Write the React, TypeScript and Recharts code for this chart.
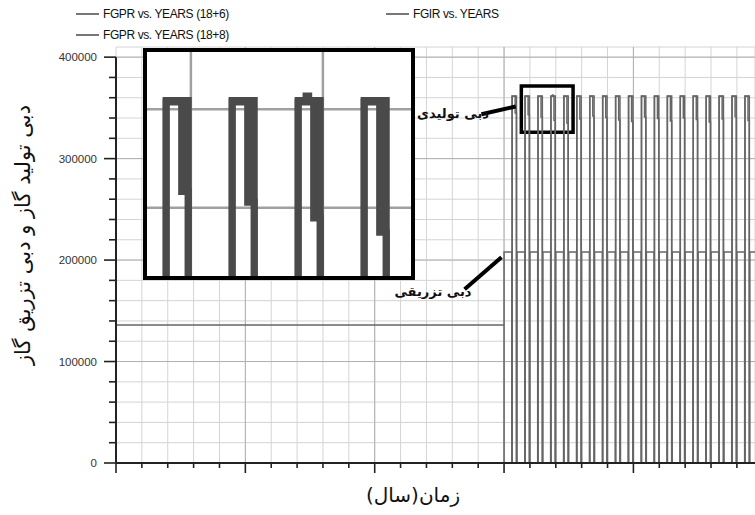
import React from "react";
import {
  LineChart,
  Line,
  XAxis,
  YAxis,
  CartesianGrid,
  ReferenceLine,
  ReferenceArea,
} from "recharts";

// --- simulation output (years / Mscf per day) ---

// constant injection before cyclic operation starts
const BASE_INJ_RATE = 136000;
const BASE_INJ_END = 60;

// start year of each injection/production cycle
const CYCLE_START = [60, 62, 64, 66, 68, 70, 72, 74, 76, 78, 80, 82, 84, 86, 88, 90, 92, 94, 96, 98];

// offsets inside a cycle (years after the cycle start)
const INJ_END = 1.2;
const PROD_START = 1.25;
const PROD_DROP_6 = 1.72;
const PROD_END = 1.92;
const SPIKE_FROM = 1.49;
const SPIKE_TO = 1.57;

// FGIR during each cycle
const INJ_RATE = [
  208000, 208000, 208000, 208000, 208000, 208000, 208000, 208000, 208000, 208000,
  208000, 208000, 208000, 208000, 208000, 208000, 208000, 208000, 208000, 208000,
];

// FGPR (18+6): plateau, then a short partial step before shut-in
const PEAK_6 = [
  361500, 361500, 361500, 361500, 361500, 361500, 361500, 361500, 361500, 361500,
  361500, 361500, 361500, 361500, 361500, 361500, 361500, 361500, 361500, 361500,
];
const STEP_6 = [
  345000, 343300, 341100, 337900, 335000, 339000, 342000, 340500, 338000, 336500,
  341000, 339500, 337000, 340000, 338500, 336000, 339000, 341500, 337500, 338000,
];

// FGPR (18+8)
const PEAK_8 = [
  361800, 361800, 361800, 361800, 361800, 361800, 361800, 361800, 361800, 361800,
  361800, 361800, 361800, 361800, 361800, 361800, 361800, 361800, 361800, 361800,
];
const SPIKE_8 = [0, 0, 0, 362700, 0, 0, 0, 0, 0, 0, 0, 0, 0, 0, 0, 0, 0, 0, 0, 0];

const X_TICKS = [0, 4, 8, 12, 16, 20, 24, 28, 32, 36, 40, 44, 48, 52, 56, 60, 64, 68, 72, 76, 80, 84, 88, 92, 96];
const X_MAJOR = [20, 40, 60, 80];
const Y_TICKS = [
  0, 20000, 40000, 60000, 80000, 100000, 120000, 140000, 160000, 180000, 200000,
  220000, 240000, 260000, 280000, 300000, 320000, 340000, 360000, 380000, 400000,
];
const Y_MAJOR = [100000, 200000, 300000, 400000];

// zoomed window shown in the inset
const INSET_X = [62.67, 70.67];
const INSET_Y = [326100, 371650];

type Pt = { x: number; y: number };

const injection: Pt[] = [
  { x: 0, y: BASE_INJ_RATE },
  { x: BASE_INJ_END, y: BASE_INJ_RATE },
  { x: BASE_INJ_END, y: 0 },
];
CYCLE_START.forEach((t, i) => {
  injection.push(
    { x: t, y: 0 },
    { x: t, y: INJ_RATE[i] },
    { x: t + INJ_END, y: INJ_RATE[i] },
    { x: t + INJ_END, y: 0 }
  );
});

const prod6: Pt[] = [{ x: 0, y: 0 }];
CYCLE_START.forEach((t, i) => {
  prod6.push(
    { x: t + PROD_START, y: 0 },
    { x: t + PROD_START, y: PEAK_6[i] },
    { x: t + PROD_DROP_6, y: PEAK_6[i] },
    { x: t + PROD_DROP_6, y: STEP_6[i] },
    { x: t + PROD_END, y: STEP_6[i] },
    { x: t + PROD_END, y: 0 }
  );
});

const prod8: Pt[] = [{ x: 0, y: 0 }];
CYCLE_START.forEach((t, i) => {
  prod8.push({ x: t + PROD_START, y: 0 }, { x: t + PROD_START, y: PEAK_8[i] });
  if (SPIKE_8[i] > 0) {
    prod8.push(
      { x: t + SPIKE_FROM, y: PEAK_8[i] },
      { x: t + SPIKE_FROM, y: SPIKE_8[i] },
      { x: t + SPIKE_TO, y: SPIKE_8[i] },
      { x: t + SPIKE_TO, y: PEAK_8[i] }
    );
  }
  prod8.push({ x: t + PROD_END, y: PEAK_8[i] }, { x: t + PROD_END, y: 0 });
});

const W = 755;
const H = 515;
const PLOT_LEFT = 116;
const PLOT_TOP = 47;
const X_AXIS_H = 52;
const PLOT_BOTTOM = H - X_AXIS_H;

const LINE_GRAY = "#666";
const AXIS = "#222";
const LATIN = "'Liberation Sans', Arial, sans-serif";
const PERSIAN = "'DejaVu Sans', sans-serif";

const YTick = (props: any) => {
  const { y, payload } = props;
  const major = payload.value % 100000 === 0;
  return (
    <g>
      <line x1={PLOT_LEFT - (major ? 12 : 7)} x2={PLOT_LEFT} y1={y} y2={y} stroke={AXIS} strokeWidth={1.6} />
      {major && (
        <text x={PLOT_LEFT - 19} y={y} dy={4} textAnchor="end" fontSize={11.5} fill="#333" fontFamily={LATIN}>
          {payload.value}
        </text>
      )}
    </g>
  );
};

const XTick = (props: any) => {
  const { x, payload } = props;
  const major = payload.value % 20 === 0;
  return <line x1={x} x2={x} y1={PLOT_BOTTOM} y2={PLOT_BOTTOM + (major ? 10 : 5)} stroke={AXIS} strokeWidth={1.6} />;
};

const LegendItem = ({ x, y, label }: { x: number; y: number; label: string }) => (
  <g>
    <line x1={x} x2={x + 23} y1={y} y2={y} stroke="#777" strokeWidth={2} />
    <text x={x + 27} y={y} dy={4} fontSize={12} letterSpacing={-0.4} fill="#111" fontFamily={LATIN}>
      {label}
    </text>
  </g>
);

export default function App() {
  return (
    <div style={{ position: "fixed", left: 0, top: 0, width: W, height: H, background: "#fff", overflow: "hidden" }}>
      <LineChart width={W} height={H} margin={{ top: PLOT_TOP, right: 0, bottom: 0, left: 0 }}>
        <CartesianGrid stroke="#d4d4d4" strokeWidth={1} />
        <CartesianGrid stroke="#b0b0b0" strokeWidth={1} horizontalValues={Y_MAJOR} verticalValues={X_MAJOR} fill="none" />
        <XAxis
          type="number"
          dataKey="x"
          domain={[0, 98.8]}
          ticks={X_TICKS}
          interval={0}
          height={X_AXIS_H}
          allowDataOverflow
          tickLine={false}
          axisLine={{ stroke: AXIS, strokeWidth: 2 }}
          tick={<XTick />}
        />
        <YAxis
          type="number"
          dataKey="y"
          domain={[0, 410000]}
          ticks={Y_TICKS}
          interval={0}
          width={PLOT_LEFT}
          allowDataOverflow
          tickLine={false}
          axisLine={false}
          tick={<YTick />}
        />
        <Line data={injection} dataKey="y" name="FGIR vs. YEARS" type="linear" stroke={LINE_GRAY} strokeWidth={1.5} dot={false} activeDot={false} isAnimationActive={false} />
        <Line data={prod6} dataKey="y" name="FGPR vs. YEARS (18+6)" type="linear" stroke={LINE_GRAY} strokeWidth={1.5} dot={false} activeDot={false} isAnimationActive={false} />
        <Line data={prod8} dataKey="y" name="FGPR vs. YEARS (18+8)" type="linear" stroke={LINE_GRAY} strokeWidth={1.5} dot={false} activeDot={false} isAnimationActive={false} />
        <ReferenceLine segment={[{ x: 0, y: 0 }, { x: 0, y: 400000 }]} stroke={AXIS} strokeWidth={2} />
        <ReferenceArea x1={INSET_X[0]} x2={INSET_X[1]} y1={INSET_Y[0]} y2={INSET_Y[1]} fill="none" fillOpacity={0} stroke="#000" strokeWidth={3.5} />
        {/* pointers for the two annotations */}
        <ReferenceLine segment={[{ x: 56.5, y: 343700 }, { x: 61.8, y: 351400 }]} stroke="#000" strokeWidth={4} />
        <ReferenceLine segment={[{ x: 53.9, y: 171200 }, { x: 59.6, y: 202700 }]} stroke="#000" strokeWidth={4} />
      </LineChart>

      {/* magnified view of the boxed window */}
      <div
        style={{
          position: "absolute",
          left: 143,
          top: 48,
          width: 272,
          height: 232,
          border: "4px solid #000",
          boxSizing: "border-box",
          background: "#fff",
        }}
      >
        <LineChart width={264} height={224} margin={{ top: 0, right: 0, bottom: 0, left: 0 }}>
          <CartesianGrid stroke="#a0a0a0" strokeWidth={2.5} horizontalValues={[340000, 360000]} verticalValues={[64, 68]} />
          <XAxis type="number" dataKey="x" domain={INSET_X} allowDataOverflow hide />
          <YAxis type="number" dataKey="y" domain={INSET_Y} allowDataOverflow hide />
          <Line data={prod6} dataKey="y" type="linear" stroke="#4a4a4a" strokeWidth={7} dot={false} activeDot={false} isAnimationActive={false} />
          <Line data={prod8} dataKey="y" type="linear" stroke="#4a4a4a" strokeWidth={7} dot={false} activeDot={false} isAnimationActive={false} />
        </LineChart>
      </div>

      <svg width={W} height={H} style={{ position: "absolute", left: 0, top: 0, pointerEvents: "none" }}>
        <LegendItem x={76} y={14} label="FGPR vs. YEARS (18+6)" />
        <LegendItem x={386} y={14} label="FGIR vs. YEARS" />
        <LegendItem x={76} y={35} label="FGPR vs. YEARS (18+8)" />

        <text x={453} y={113} dy={5} textAnchor="middle" fontSize={13} fontWeight="bold" fill="#111" fontFamily={PERSIAN} direction="rtl">
          دبی تولیدی
        </text>
        <text x={433} y={291} dy={5} textAnchor="middle" fontSize={13} fontWeight="bold" fill="#111" fontFamily={PERSIAN} direction="rtl">
          دبی تزریقی
        </text>

        <text
          x={30}
          y={235}
          textAnchor="middle"
          fontSize={21}
          fill="#111"
          fontFamily={PERSIAN}
          transform="rotate(-90, 30, 235)"
        >
          دبی تولید گاز و دبی تزریق گاز
        </text>
        <text x={413} y={502} textAnchor="middle" fontSize={20} fill="#111" fontFamily={PERSIAN}>
          زمان(سال)
        </text>
      </svg>
    </div>
  );
}
